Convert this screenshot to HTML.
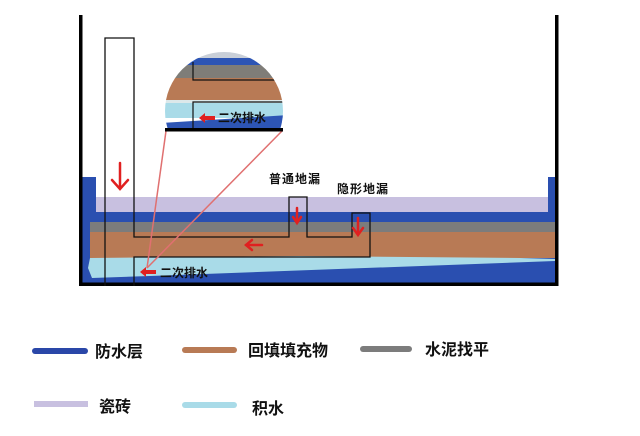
<!DOCTYPE html>
<html><head><meta charset="utf-8"><style>
html,body{margin:0;padding:0;background:#fff;}
svg{display:block}
text{font-family:"Liberation Sans","Noto Sans CJK SC",sans-serif;font-weight:bold;}
</style></head><body>
<svg width="640" height="436" viewBox="0 0 640 436" xmlns="http://www.w3.org/2000/svg">
<defs>
<clipPath id="dome"><circle cx="224" cy="111" r="59"/></clipPath>
<clipPath id="domeb"><rect x="160" y="40" width="130" height="91"/></clipPath>
</defs>
<rect x="82" y="177" width="474" height="107" fill="#2a4fb0"/>
<rect x="96" y="177" width="452" height="20" fill="#fff"/>
<rect x="96" y="197" width="452" height="15" fill="#c8c0e0"/>
<rect x="90" y="222" width="465" height="11" fill="#7c7c7c"/>
<rect x="90" y="232" width="465" height="26" fill="#b87a55"/>
<polygon points="90,258 300,256 520,258 555,259 555,261 150,276 92,278 88,268" fill="#a9dbe8"/>
<rect x="79" y="15" width="3.5" height="271" fill="#000"/>
<rect x="555" y="15" width="3.5" height="271" fill="#000"/>
<rect x="79" y="282.5" width="479.5" height="3.5" fill="#000"/>
<rect x="105" y="38" width="29" height="139" fill="#fff"/>
<g fill="none" stroke="#111" stroke-width="1.3">
<polyline points="105,286 105,38 134,38 134,237 289,237 289,197 307,197 307,237 352,237 352,213 370,213 370,257 134,257 134,286"/>
</g>
<line x1="166" y1="131" x2="147" y2="268" stroke="#e07070" stroke-width="1.5"/>
<line x1="282" y1="131" x2="147" y2="268" stroke="#e07070" stroke-width="1.5"/>
<g clip-path="url(#domeb)"><g clip-path="url(#dome)">
<rect x="160" y="50" width="130" height="9" fill="#c9cfd8"/>
<rect x="160" y="58" width="130" height="7" fill="#2d55b5"/>
<rect x="160" y="65" width="130" height="13" fill="#7f7d78"/>
<rect x="160" y="78" width="130" height="22" fill="#b87a55"/>
<rect x="160" y="100" width="130" height="3" fill="#dce8ea"/>
<rect x="160" y="103" width="130" height="15" fill="#a9dbe8"/>
<polygon points="160,123 290,115 290,128 160,128" fill="#2d55b5"/>
<polyline points="193,62 193,80 290,80" fill="none" stroke="#111" stroke-width="1.2"/>
<polyline points="193,128 193,102 290,102" fill="none" stroke="#111" stroke-width="1.2"/>
</g></g>
<rect x="165" y="128" width="118" height="3.5" fill="#000"/>
<polygon points="199,118 205,113 205,116 215,116 215,120 205,120 205,123" fill="#e02020"/>
<text x="218" y="122" font-size="12" fill="#111">二次排水</text>
<g stroke="#e02020" stroke-width="2.5" fill="none" stroke-linecap="round">
<line x1="120" y1="163" x2="120" y2="188"/><polyline points="112,180 120,189 128,180"/>
<line x1="297" y1="208" x2="297" y2="222"/><polyline points="293,217 297,223 301,217"/>
<line x1="358" y1="218" x2="358" y2="234"/><polyline points="353,228 358,235 363,228"/>
<line x1="246" y1="245" x2="262" y2="245"/><polyline points="252,240 246,245 252,250"/>
</g>
<polygon points="140,272 146,267 146,270 156,270 156,274 146,274 146,277" fill="#e02020"/>
<text x="160" y="277" font-size="12" fill="#111">二次排水</text>
<text x="269" y="183" font-size="12" fill="#111" letter-spacing="1">普通地漏</text>
<text x="337" y="193" font-size="12" fill="#111" letter-spacing="1">隐形地漏</text>
<rect x="32" y="348" width="56" height="6" rx="3" fill="#2a47a8"/>
<text x="95" y="357" font-size="16" fill="#111">防水层</text>
<rect x="182" y="347" width="55" height="6" rx="3" fill="#b87a55"/>
<text x="248" y="356" font-size="16" fill="#111">回填填充物</text>
<rect x="360" y="346" width="52" height="6" rx="3" fill="#7c7c7c"/>
<text x="425" y="355" font-size="16" fill="#111">水泥找平</text>
<rect x="34" y="401" width="54" height="6" fill="#c8c0e0"/>
<text x="99" y="412" font-size="16" fill="#111">瓷砖</text>
<rect x="182" y="402" width="55" height="6" rx="3" fill="#a9dbe8"/>
<text x="252" y="414" font-size="16" fill="#111">积水</text>
</svg>
</body></html>
